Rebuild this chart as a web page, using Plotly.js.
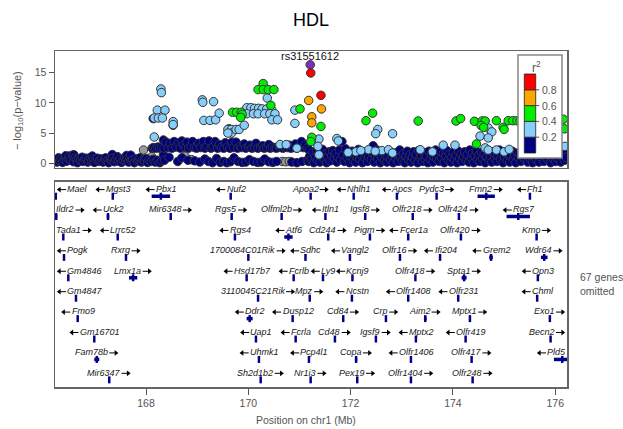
<!DOCTYPE html>
<html><head><meta charset="utf-8">
<script src="https://cdn.plot.ly/plotly-3.0.1.min.js"></script>
<style>html,body{margin:0;padding:0;background:#fff}</style>
</head><body><div id="chart" style="width:623px;height:429px"></div>
<script>
// ---------- association data: [position (Mb), -log10 p] ----------
const navyLeft = [[166.24,0.55],[166.26,0.2],[166.29,0.9],[166.31,0.4],[166.34,0.7],[166.37,0.15],[166.40,0.6],[166.42,1.0],[166.43,1.25],[166.45,0.35],[166.48,0.8],[166.50,1.2],[166.53,0.5],[166.56,1.35],[166.58,0.25],[166.59,1.4],[166.61,0.9],[166.64,0.6],[166.66,0.1],[166.69,0.75],[166.72,0.45],[166.75,1.0],[166.77,0.3],[166.80,0.65],[166.83,0.85],[166.86,0.2],[166.88,0.55],[166.91,0.95],[166.94,0.4],[166.95,1.2],[166.97,0.7],[166.99,0.15],[167.02,0.6],[167.05,0.85],[167.08,0.3],[167.10,0.5],[167.13,0.75],[167.16,0.2],[167.19,0.6],[167.21,0.9],[167.24,0.4],[167.27,0.1],[167.30,0.7],[167.33,0.5],[167.34,1.45],[167.35,0.85],[167.38,0.25],[167.41,0.6],[167.44,1.1],[167.46,0.35],[167.49,0.7],[167.52,0.15],[167.55,0.55],[167.58,0.9],[167.60,0.4],[167.62,1.3],[167.63,0.65],[167.66,0.2],[167.69,0.8],[167.70,1.35],[167.71,0.45],[167.74,0.6],[167.77,0.1],[167.80,0.75],[167.83,0.35],[167.86,0.55],[167.88,0.9],[167.91,0.2],[167.94,0.6],[167.97,0.4],[168.00,0.8],[168.03,0.15],[168.06,0.5],[168.10,0.3],[168.14,0.65],[168.18,0.2],[168.22,0.5],[168.27,0.1],[168.31,0.4],[168.34,1.4]];
const navyMid = [[168.12,2.5],[168.15,2.6],[168.19,2.5],[168.23,2.7],[168.26,2.5],[168.30,2.6],[168.34,3.85],[168.35,2.5],[168.39,3.5],[168.43,2.6],[168.47,3.3],[168.51,2.5],[168.55,3.6],[168.58,2.7],[168.63,3.4],[168.67,2.5],[168.70,3.7],[168.73,3.0],[168.77,2.6],[168.80,3.5],[168.83,2.5],[168.88,2.8],[168.91,3.6],[168.95,2.6],[168.99,2.5],[169.03,3.3],[169.07,2.6],[169.12,3.6],[169.15,2.5],[169.19,2.8],[169.23,3.7],[169.27,2.5],[169.31,2.7],[169.35,3.6],[169.40,2.5],[169.43,3.1],[169.47,2.6],[169.52,2.5],[169.55,3.4],[169.59,2.7],[169.62,5.7],[169.64,2.5],[169.68,3.5],[169.71,2.6],[169.76,3.5],[169.79,2.5],[169.84,2.8],[169.87,2.6],[169.92,3.2],[169.95,2.5],[170.00,2.7],[170.03,3.0],[170.07,2.5],[170.12,2.6],[170.15,3.3],[170.19,2.5],[170.24,2.7],[170.28,2.9],[170.31,2.5],[170.36,2.6],[170.40,3.1],[170.43,2.5],[170.47,2.7],[170.52,2.6],[170.55,2.5],[170.60,2.8],[170.63,2.6],[170.68,2.5],[170.71,2.7],[170.76,2.6],[170.80,3.0],[170.83,2.5],[170.88,2.6],[170.92,3.2],[170.95,2.5],[171.00,2.7],[171.04,3.6],[171.08,2.6],[171.11,3.0],[171.15,2.5],[171.19,2.2],[168.14,7.4],[168.53,6.3]];
const navyMidLow = [[168.36,0.5],[168.45,1.0],[168.62,0.3],[168.70,0.9],[168.82,0.5],[168.95,0.4],[169.05,0.2],[169.15,0.7],[169.22,0.3],[169.30,0.1],[169.38,0.8],[169.45,0.15],[169.52,0.3],[169.58,0.1],[169.65,0.25],[169.72,0.9],[169.80,0.3],[169.88,0.15],[169.95,0.2],[170.02,0.6],[170.10,0.3],[170.18,0.15],[170.25,0.2],[170.32,0.7],[170.40,0.25],[170.48,0.15],[170.55,0.3],[170.85,0.2],[170.95,0.1],[171.05,0.3],[171.15,0.5]];
const navyRight = [[171.18,0.3],[171.20,1.2],[171.23,0.6],[171.26,1.8],[171.28,0.1],[171.31,1.0],[171.33,2.0],[171.35,0.5],[171.38,1.6],[171.40,0.2],[171.43,1.2],[171.45,2.3],[171.48,0.7],[171.50,1.5],[171.53,0.1],[171.55,1.0],[171.58,1.9],[171.60,0.4],[171.63,1.3],[171.65,2.1],[171.68,0.8],[171.70,1.6],[171.73,0.2],[171.75,1.1],[171.78,2.2],[171.80,0.6],[171.83,3.6],[171.85,1.4],[171.88,0.3],[171.90,2.4],[171.93,0.9],[171.95,1.6],[171.98,0.1],[172.00,1.2],[172.03,2.0],[172.05,0.5],[172.08,1.5],[172.10,0.2],[172.13,1.0],[172.15,2.3],[172.18,0.7],[172.20,1.4],[172.23,0.1],[172.25,1.9],[172.28,0.9],[172.30,1.5],[172.33,0.3],[172.35,1.1],[172.38,2.1],[172.40,0.6],[172.43,1.7],[172.44,2.9],[172.46,0.2],[172.48,1.3],[172.51,2.2],[172.53,0.8],[172.56,1.5],[172.58,0.1],[172.61,1.0],[172.63,1.9],[172.66,0.5],[172.68,1.4],[172.71,0.2],[172.73,1.1],[172.76,2.0],[172.78,0.6],[172.81,1.3],[172.83,0.1],[172.86,1.7],[172.88,0.8],[172.91,1.5],[172.93,0.3],[172.96,2.2],[172.98,1.0],[173.01,0.4],[173.03,1.6],[173.06,0.1],[173.08,1.2],[173.11,2.0],[173.13,0.6],[173.16,1.4],[173.18,0.2],[173.21,1.0],[173.23,1.9],[173.26,0.5],[173.28,1.5],[173.31,0.1],[173.33,2.1],[173.36,0.9],[173.38,1.3],[173.41,0.3],[173.43,1.8],[173.46,0.7],[173.48,1.2],[173.51,0.1],[173.53,2.0],[173.56,0.6],[173.58,1.5],[173.61,0.2],[173.63,1.1],[173.66,2.2],[173.68,0.8],[173.71,1.4],[173.73,0.3],[173.76,1.9],[173.78,0.9],[173.81,1.6],[173.83,0.1],[173.86,1.2],[173.88,2.1],[173.91,0.5],[173.93,1.5],[173.96,0.2],[173.98,1.0],[174.01,1.8],[174.03,0.6],[174.06,1.3],[174.08,0.1],[174.11,2.0],[174.13,0.8],[174.16,1.5],[174.18,0.3],[174.21,1.1],[174.23,1.9],[174.26,0.5],[174.28,1.4],[174.31,0.2],[174.33,2.2],[174.36,0.9],[174.38,1.6],[174.41,0.1],[174.43,1.2],[174.46,2.0],[174.48,0.6],[174.51,1.4],[174.53,0.3],[174.56,1.8],[174.58,0.8],[174.61,1.5],[174.63,0.1],[174.66,1.1],[174.68,2.1],[174.71,0.5],[174.73,1.3],[174.76,0.2],[174.78,1.9],[174.81,0.9],[174.83,1.6],[174.86,0.3],[174.88,1.2],[174.91,2.2],[174.93,0.7],[174.96,1.4],[174.98,0.1],[175.01,1.0],[175.03,1.8],[175.06,0.5],[175.08,1.5],[175.11,0.2],[175.13,1.2],[175.16,2.0],[175.18,0.7],[175.21,1.3],[175.23,0.1],[175.26,1.7],[175.28,0.9],[175.31,1.5],[175.33,0.3],[175.36,1.1],[175.38,2.1],[175.41,0.6],[175.43,1.4],[175.46,0.2],[175.48,1.8],[175.51,0.8],[175.53,1.2],[175.56,0.1],[175.58,1.6],[175.61,2.2],[175.63,0.5],[175.66,1.3],[175.68,0.2],[175.71,1.9],[175.73,0.9],[175.76,1.5],[175.78,0.3],[175.81,1.1],[175.83,2.0],[175.86,0.6],[175.88,1.4],[175.91,0.1],[175.93,1.7],[175.96,0.8],[175.98,1.3],[176.01,0.3],[176.03,2.1],[176.06,0.7],[176.08,1.5],[176.11,0.2],[176.13,1.2],[176.16,1.9],[176.18,0.5],[176.21,1.0]];
const greyPts = [[167.95,2.2],[168.11,1.1],[168.76,1.2],[168.89,0.6],[170.66,0.3],[170.73,0.25],[170.80,0.3]];
const lightBluePts = [[168.29,12.3],[168.30,11.7],[168.22,8.8],[168.37,8.8],[168.16,7.5],[168.24,7.5],[168.32,7.5],[168.53,6.9],[168.53,6.4],[168.16,4.35],[169.10,10.5],[169.11,10.1],[169.32,10.2],[169.13,7.1],[169.25,7.1],[169.36,7.2],[169.43,8.3],[169.60,5.6],[169.67,5.6],[169.67,5.0],[169.76,5.6],[169.82,5.6],[169.60,5.0],[169.92,6.3],[169.97,9.2],[170.05,9.2],[170.12,9.1],[170.20,9.1],[170.27,9.0],[170.36,9.0],[170.46,8.8],[169.97,8.2],[170.10,8.2],[170.19,8.2],[170.32,8.2],[170.42,8.2],[170.52,8.2],[170.46,7.2],[170.57,7.2],[170.37,10.8],[170.91,6.6],[170.91,8.8],[170.62,3.1],[170.74,3.1],[170.95,2.5],[171.38,4.0],[171.36,2.8],[171.38,1.4],[171.73,4.1],[171.76,3.7],[172.53,5.6],[172.49,4.9],[172.82,4.9],[172.35,2.25],[172.61,2.1],[172.74,2.25],[172.82,1.7],[173.36,2.25],[173.81,3.0],[174.04,3.0],[174.69,5.85],[174.76,5.2],[174.53,4.5],[174.69,4.2],[174.63,2.55],[174.69,2.2],[174.85,2.2],[176.19,2.8],[172.10,1.9],[172.20,2.1],[171.95,1.8],[173.60,1.9],[175.00,1.9],[175.10,2.3],[172.48,2.0]];
const greenPts = [[170.29,13.2],[170.19,12.2],[170.29,12.2],[170.39,12.2],[170.50,12.2],[170.44,9.6],[169.69,8.45],[169.77,8.45],[169.86,8.45],[169.88,8.1],[169.85,7.6],[171.01,9.0],[171.42,6.1],[171.24,4.3],[171.22,3.6],[172.30,7.05],[172.43,8.3],[173.32,7.0],[174.06,7.0],[174.15,7.4],[174.42,6.95],[174.57,7.0],[174.63,7.0],[174.55,6.25],[174.60,5.95],[174.85,7.05],[174.98,5.95],[175.00,5.6],[175.08,7.05],[175.17,7.05],[175.25,7.05],[175.31,7.05],[176.16,7.3],[176.18,5.7],[174.46,3.2]];
const orangePts = [[171.18,10.4],[171.43,9.0],[171.24,7.7],[171.24,6.7]];
const redPts = [[171.22,14.95],[171.42,11.25]];
const leadPt = [[171.21,16.3]];
const leadName = 'rs31551612';

// ---------- genes ----------
const geneNames = ['Mael','Mgst3','Pbx1','Nuf2','Apoa2','Nhlh1','Apcs','Pydc3','Fmn2','Fh1',
 'Ildr2','Uck2','Mir6348','Rgs5','Olfml2b','Itln1','Igsf8','Olfr218','Olfr424','Rgs7',
 'Tada1','Lrrc52','Rgs4','Atf6','Cd244','Pigm','Fcer1a','Olfr420','Kmo',
 'Pogk','Rxrg','1700084C01Rik','Sdhc','Vangl2','Olfr16','Ifi204','Grem2','Wdr64',
 'Gm4846','Lmx1a','Hsd17b7','Fcrlb','Ly9','Kcnj9','Olfr418','Spta1','Opn3',
 'Gm4847','3110045C21Rik','Mpz','Ncstn','Olfr1408','Olfr231','Chml',
 'Fmo9','Ddr2','Dusp12','Cd84','Crp','Aim2','Mptx1','Exo1',
 'Gm16701','Uap1','Fcrla','Cd48','Igsf9','Mptx2','Olfr419','Becn2',
 'Fam78b','Uhmk1','Pcp4l1','Copa','Olfr1406','Olfr417','Pld5',
 'Mir6347','Sh2d1b2','Nr1i3','Pex19','Olfr1404','Olfr248'];
const geneStrand = ['-','-','-','-','+','-','-','+','+','-',
 '+','-','+','+','+','-','+','+','+','-',
 '+','-','-','-','+','+','-','+','+',
 '-','+','+','-','-','+','-','-','+',
 '-','+','-','-','-','-','+','+','-',
 '-','+','+','-','-','-','-',
 '-','-','-','+','+','+','+','+',
 '-','-','-','+','+','-','-','+',
 '+','-','-','+','-','+','-',
 '+','+','+','+','+','+'];
const geneRow = [0,0,0,0,0,0,0,0,0,0,
 1,1,1,1,1,1,1,1,1,1,
 2,2,2,2,2,2,2,2,2,
 3,3,3,3,3,3,3,3,3,
 4,4,4,4,4,4,4,4,4,
 5,5,5,5,5,5,5,
 6,6,6,6,6,6,6,6,
 7,7,7,7,7,7,7,7,
 8,8,8,8,8,8,8,
 9,9,9,9,9,9];
const geneStart = [166.220,167.350,168.110,169.655,171.218,172.060,172.905,173.681,174.482,175.505,
 166.222,167.231,168.482,169.674,170.651,171.507,172.285,173.214,174.117,175.049,
 166.382,167.446,169.738,170.702,171.562,172.377,173.126,174.156,175.636,
 166.396,167.608,170.000,171.117,171.986,172.964,173.748,174.710,175.720,
 166.480,167.666,169.967,170.886,171.459,172.035,173.266,174.170,175.660,
 166.630,170.190,171.200,172.025,173.126,174.103,175.647,
 166.664,169.967,170.866,171.855,172.690,173.433,174.332,175.895,
 166.988,170.149,170.925,171.693,172.494,173.276,174.248,175.909,
 166.988,170.207,171.185,172.084,173.179,174.365,175.974,
 167.281,170.241,171.218,172.129,173.179,174.385];
const geneEnd = [166.250,167.350,168.470,169.655,171.218,172.060,172.905,173.681,174.820,175.505,
 166.265,167.281,168.482,169.674,170.651,171.507,172.285,173.214,174.117,175.505,
 166.382,167.446,169.738,170.866,171.562,172.377,173.126,174.156,175.636,
 166.396,167.608,170.000,171.117,171.986,172.964,173.748,174.780,175.850,
 166.480,167.829,169.967,170.886,171.459,172.035,173.266,174.267,175.660,
 166.630,170.190,171.200,172.025,173.126,174.103,175.647,
 166.664,170.084,170.866,171.855,172.690,173.485,174.332,175.895,
 166.988,170.149,170.925,171.693,172.494,173.276,174.248,175.909,
 167.086,170.207,171.185,172.129,173.179,174.365,176.300,
 167.281,170.241,171.218,172.129,173.179,174.385];

const xTicks = [168,170,172,174,176];
const yTicks = [0,5,10,15];
const ldBreaks = ['0.2','0.4','0.6','0.8'];

// ---------- styling ----------
const FONT = 'Liberation Sans, Arial, Helvetica, sans-serif';
const XR = [166.22, 176.23];
const PLOT_L = 55, PLOT_W = 512;
const GREYTXT = '#555555';
const ldColors = ['#000080','#87CEFA','#00EE00','#FFA500','#FF0000'];
const GENE_BLUE = '#00008B';

function pts(arr, color){
  return {type:'scatter', mode:'markers', xaxis:'x', yaxis:'y',
    x: arr.map(p=>p[0]), y: arr.map(p=>p[1]),
    marker:{size:8.5, color:color, line:{color:'#333333', width:1}},
    hoverinfo:'skip', showlegend:false};
}

const traces = [
  pts(greyPts, '#9a9a9a'),
  pts(navyLeft, ldColors[0]),
  pts(navyMidLow, ldColors[0]),
  pts(navyMid, ldColors[0]),
  pts(navyRight, ldColors[0]),
  pts(lightBluePts, ldColors[1]),
  pts(greenPts, ldColors[2]),
  pts(orangePts, ldColors[3]),
  pts(redPts, ldColors[4]),
  pts(leadPt, '#7B2FBE')
];

// gene bars
const BAR_OFF = 0.35;
const bx = [], by = [];
geneNames.forEach((g,i)=>{
  bx.push(geneStart[i], geneEnd[i], null);
  by.push(-geneRow[i]-BAR_OFF, -geneRow[i]-BAR_OFF, null);
});
traces.push({type:'scatter', mode:'lines', xaxis:'x2', yaxis:'y2', x:bx, y:by,
  line:{color:GENE_BLUE, width:3.5}, hoverinfo:'skip', showlegend:false});
traces.push({type:'scatter', mode:'markers', xaxis:'x2', yaxis:'y2',
  x: geneNames.map((g,i)=>(geneStart[i]+geneEnd[i])/2),
  y: geneRow.map(r=>-r-BAR_OFF),
  marker:{symbol:'line-ns', size:5, color:GENE_BLUE, line:{color:GENE_BLUE, width:2.5}},
  hoverinfo:'skip', showlegend:false});

// ---------- gene labels with strand arrows ----------
const GFS = 9, ARW = 9.5, GAP = 1.5, HEAD = 5;
const cv = document.createElement('canvas').getContext('2d');
cv.font = 'italic ' + GFS + 'px "Liberation Sans"';
const annotations = [];
const toPx = x => PLOT_L + (x - XR[0]) * PLOT_W / (XR[1]-XR[0]);
const toX = p => XR[0] + (p - PLOT_L) * (XR[1]-XR[0]) / PLOT_W;
const shaftX = [], shaftY = [], headX = [], headY = [], headSym = [];
const ARROW_DY = -0.03;
geneNames.forEach((g,i)=>{
  const w = cv.measureText(g).width;
  const total = w + GAP + ARW;
  let p = toPx((geneStart[i]+geneEnd[i])/2);
  if (p - total/2 < PLOT_L + 1.5) p = PLOT_L + 1.5 + total/2;
  if (p + total/2 > PLOT_L + PLOT_W - 1.5) p = PLOT_L + PLOT_W - 1.5 - total/2;
  const neg = geneStrand[i] === '-';
  const textC = neg ? p + (ARW+GAP)/2 : p - (ARW+GAP)/2;
  annotations.push({xref:'x2', yref:'y2', x:toX(textC), y:-geneRow[i], text:'<i>'+g+'</i>', showarrow:false,
    xanchor:'center', yanchor:'middle', font:{family:FONT, size:GFS, color:'#1a1a1a'}});
  const tip = neg ? p - total/2 : p + total/2;
  const tail = neg ? tip + ARW : tip - ARW;
  const yy = -geneRow[i] + ARROW_DY;
  shaftX.push(toX(tail), toX(neg ? tip + 2 : tip - 2), null);
  shaftY.push(yy, yy, null);
  headX.push(toX(neg ? tip + HEAD*0.58 : tip - HEAD*0.58));
  headY.push(yy);
  headSym.push(neg ? 'triangle-left' : 'triangle-right');
});
traces.push({type:'scatter', mode:'lines', xaxis:'x2', yaxis:'y2', x:shaftX, y:shaftY, cliponaxis:false,
  line:{color:'#000000', width:1}, hoverinfo:'skip', showlegend:false});
traces.push({type:'scatter', mode:'markers', xaxis:'x2', yaxis:'y2', x:headX, y:headY, cliponaxis:false,
  marker:{symbol:headSym, size:HEAD, color:'#000000', line:{width:0}}, hoverinfo:'skip', showlegend:false});

// ---------- legend (r^2 key) ----------
const L = {x0:0.9043, x1:0.9902, y0:0.6815, y1:0.9881, bx0:0.9166, bx1:0.9389,
  seg:[0.6964,0.7435,0.7905,0.8375,0.8845,0.9315]};
const shapes = [{type:'rect', xref:'paper', yref:'paper', x0:L.x0, x1:L.x1, y0:L.y0, y1:L.y1,
  fillcolor:'#ffffff', line:{color:'#888888', width:1.5}, layer:'above'}];
ldColors.forEach((c,i)=>{
  shapes.push({type:'rect', xref:'paper', yref:'paper', x0:L.bx0, x1:L.bx1, y0:L.seg[i], y1:L.seg[i+1],
    fillcolor:c, line:{color:'#222222', width:0.8}, layer:'above'});
});
ldBreaks.forEach((t,i)=>{
  shapes.push({type:'line', xref:'paper', yref:'paper', x0:L.bx1, x1:L.bx1+0.007, y0:L.seg[i+1], y1:L.seg[i+1],
    line:{color:'#555555', width:1}, layer:'above'});
  annotations.push({xref:'paper', yref:'paper', x:L.bx1+0.009, y:L.seg[i+1], text:t, showarrow:false,
    xanchor:'left', yanchor:'middle', font:{family:FONT, size:10.5, color:GREYTXT}});
});
annotations.push({xref:'paper', yref:'paper', x:0.9414, y:0.953, text:'r<sup>2</sup>', showarrow:false,
  xanchor:'center', yanchor:'middle', font:{family:FONT, size:12, color:GREYTXT}});
annotations.push({xref:'x', yref:'paper', x:leadPt[0][0], y:0.985, text:leadName, showarrow:false,
  xanchor:'center', yanchor:'middle', font:{family:FONT, size:11, color:'#111111'}});
annotations.push({xref:'paper', yref:'paper', x:-0.0723, y:0.824, text:'\u2212 log<sub>10</sub>(p\u2212value)',
  textangle:-90, showarrow:false, xanchor:'center', yanchor:'middle', font:{family:FONT, size:11, color:GREYTXT}});
annotations.push({xref:'paper', yref:'paper', x:0.491, y:-0.098, text:'Position on chr1 (Mb)', showarrow:false,
  xanchor:'center', yanchor:'middle', font:{family:FONT, size:10.5, color:GREYTXT}});
annotations.push({xref:'paper', yref:'paper', x:1.0215, y:0.3065, text:'67 genes<br>omitted', showarrow:false,
  align:'left', xanchor:'left', yanchor:'middle', font:{family:FONT, size:10.5, color:GREYTXT}});

const axLine = {showline:true, mirror:true, linecolor:'#666666', linewidth:1.5, showgrid:false, zeroline:false};
const layout = {
  width:623, height:429,
  margin:{l:55, r:56, t:51, b:42},
  paper_bgcolor:'#ffffff', plot_bgcolor:'#ffffff',
  font:{family:FONT},
  title:{text:'HDL', font:{family:FONT, size:18, color:'#000000'}, x:0.5, xref:'paper', y:0.953, yref:'container', yanchor:'middle'},
  xaxis: Object.assign({anchor:'y', range:XR, showticklabels:false, ticks:''}, axLine),
  yaxis: Object.assign({anchor:'x', domain:[0.6518,1], range:[-0.78,18.59], tickvals:yTicks, ticks:'outside', ticklen:5,
    tickcolor:'#555555', tickfont:{family:FONT, size:10.5, color:GREYTXT}}, axLine),
  xaxis2: Object.assign({anchor:'y2', range:XR, tickvals:xTicks, ticks:'outside', ticklen:6, tickcolor:'#555555',
    tickfont:{family:FONT, size:10.5, color:GREYTXT}}, axLine),
  yaxis2: Object.assign({anchor:'x2', domain:[0,0.6116], range:[-9.70,0.367], showticklabels:false, ticks:''}, axLine),
  shapes: shapes,
  annotations: annotations,
  showlegend:false
};
Plotly.newPlot('chart', traces, layout, {staticPlot:true, displayModeBar:false});
</script></body></html>
